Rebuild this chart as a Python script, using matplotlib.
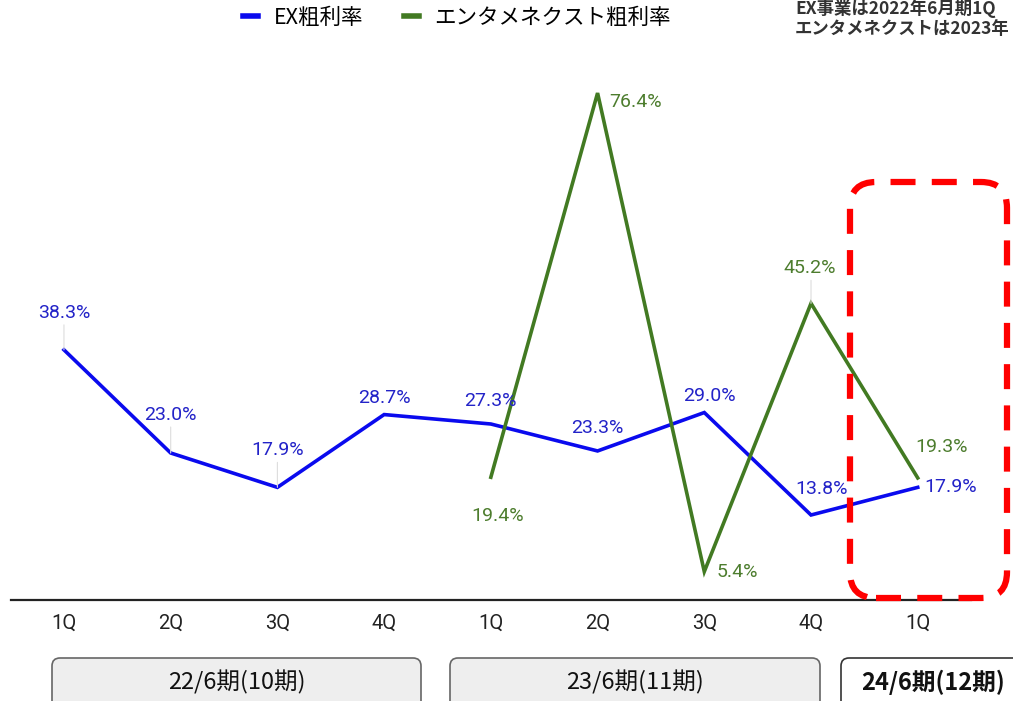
import matplotlib
matplotlib.use("Agg")
import matplotlib.pyplot as plt
from matplotlib.lines import Line2D
from matplotlib.patches import FancyBboxPatch
from matplotlib.transforms import IdentityTransform

# data
quarters = ["1Q", "2Q", "3Q", "4Q", "1Q", "2Q", "3Q", "4Q", "1Q"]
ex_rate = [38.3, 23.0, 17.9, 28.7, 27.3, 23.3, 29.0, 13.8, 17.9]
ent_idx = [4, 5, 6, 7, 8]
ent_rate = [19.4, 76.4, 5.4, 45.2, 19.3]
periods = ["22/6期(10期)", "23/6期(11期)", "24/6期(12期)"]
notes = ["EX事業は2022年6月期1Q", "エンタメネクストは2023年"]

BLUE = "#0a0aee"
BLUE_TXT = "#2323c8"
GREEN = "#427a22"
GREEN_TXT = "#4d7d2e"
JP = ["Noto Sans CJK JP", "DejaVu Sans"]
NUM = ["Roboto", "Noto Sans CJK JP"]

fig = plt.figure(figsize=(10.13, 7.01), dpi=100)
ax = fig.add_axes([10.6 / 1013, 101 / 701, 960.5 / 1013, 540 / 701])
x = list(range(len(quarters)))
ax.plot(x, ex_rate, color=BLUE, lw=2.6, solid_joinstyle="miter")
ax.plot(ent_idx, ent_rate, color=GREEN, lw=2.6, solid_joinstyle="miter")
ax.set_xlim(-0.5, 8.5)
ax.set_ylim(1.19, 81.3)

for s in ["top", "right", "left"]:
    ax.spines[s].set_visible(False)
ax.spines["bottom"].set_color("#222222")
ax.spines["bottom"].set_linewidth(1.6)
ax.set_yticks([])
ax.set_xticks(x)
ax.set_xticklabels(quarters, family=NUM, fontsize=14.5, color="#222222")
ax.tick_params(axis="x", length=0, pad=10)

# label offsets (pixels): dx, dy, ha, leader line
ex_off = [(0, 37, "center", True), (0, 38, "center", True), (0, 37, "center", True),
          (0, 17, "center", False), (0, 23, "center", False), (0, 23, "center", False),
          (5, 17, "center", False), (11, 26, "center", False), (7, 0, "left", False)]
ent_off = [(7, -39, "center", False), (12, -9, "left", False), (12, 0, "left", False),
           (-1, 35, "center", True), (24, 31, "center", False)]


def put_labels(xs, ys, offs, color):
    for xi, yi, (dx, dy, ha, lead) in zip(xs, ys, offs):
        ax.annotate(f"{yi:.1f}%", (xi, yi), xytext=(dx * 0.72, dy * 0.72),
                    textcoords="offset points", ha=ha, va="center",
                    fontsize=14, color=color, family=NUM)
        if lead:
            ax.annotate("", (xi, yi), xytext=(0, (dy - 12) * 0.72),
                        textcoords="offset points",
                        arrowprops=dict(arrowstyle="-", color="#dddddd", lw=0.8,
                                        shrinkA=0, shrinkB=0))


put_labels(x, ex_rate, ex_off, BLUE_TXT)
put_labels(ent_idx, ent_rate, ent_off, GREEN_TXT)

# legend
handles = [Line2D([], [], color=BLUE, lw=4), Line2D([], [], color=GREEN, lw=4)]
fig.legend(handles, ["EX粗利率", "エンタメネクスト粗利率"], loc="center",
           bbox_to_anchor=(457 / 1013, 1 - 18 / 701), ncol=2, frameon=False,
           handlelength=0.7, columnspacing=1.9, handletextpad=0.7,
           prop={"family": JP, "size": 15.5})

# note top right (cut by the edge in the original)
fig.text(795 / 1013, 1 - 9 / 701, notes[0], ha="left", va="center",
         fontsize=12.5, fontweight="bold", color="#333333", family=JP)
fig.text(795 / 1013, 1 - 29 / 701, notes[1], ha="left", va="center",
         fontsize=12.5, fontweight="bold", color="#333333", family=JP)

# red dashed highlight box (pixel coords)
hl = FancyBboxPatch((850, 103), 157, 416, boxstyle="round,pad=0,rounding_size=26",
                    transform=IdentityTransform(), fill=False, edgecolor="#ff0000",
                    lw=4.5, linestyle=(0, (4, 2.6)), zorder=5)
fig.patches.append(hl)

# period boxes
box_spec = [(52, 421, "#eeeeee", "#666666", "normal", 17),
            (450, 820, "#eeeeee", "#666666", "normal", 17),
            (841, 1040, "white", "#333333", "bold", 17)]
for label, (x0, x1, fc, ec, fw, fs) in zip(periods, box_spec):
    b = FancyBboxPatch((x0, -20), x1 - x0, 63, boxstyle="round,pad=0,rounding_size=8",
                       transform=IdentityTransform(), facecolor=fc, edgecolor=ec, lw=1.2)
    fig.patches.append(b)
    cx = (x0 + x1) / 2 if fw == "normal" else 933
    fig.text(cx / 1013, 1 - 682 / 701, label, ha="center", va="center",
             fontsize=fs, fontweight=fw, color="#111111", family=JP)

fig.savefig("out.png", dpi=100)
